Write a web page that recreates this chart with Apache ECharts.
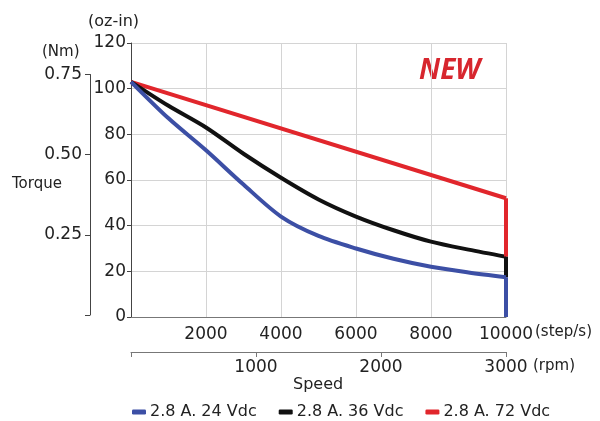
<!DOCTYPE html>
<html>
<head>
<meta charset="utf-8">
<script src="https://cdn.jsdelivr.net/npm/echarts@6/dist/echarts.min.js"></script>
<style>html,body{margin:0;padding:0;background:#fff}#c{width:600px;height:421px}</style>
</head>
<body>
<div id="c"></div>
<script>
// ---- data ----
const seriesNames = ['2.8 A. 24 Vdc', '2.8 A. 36 Vdc', '2.8 A. 72 Vdc'];
const speedSteps = [0, 1000, 2000, 3000, 4000, 5000, 6000, 7000, 8000, 9000, 10000];
const torque24 = [103, 87, 73, 58, 44, 35.5, 30, 25.5, 22, 19.5, 17.4];
const torque36 = [103, 92.5, 83, 71.5, 61, 51.5, 44, 38, 33, 29.5, 26.4];
const speed72 = [0, 10000];
const torque72 = [103, 52];
const cutoffSpeed = 10000;
const cutoffFloor = { '24': 0, '36': 17.4, '72': 26.4 };
const stepTicks = [0, 2000, 4000, 6000, 8000, 10000];
const rpmTicks = [0, 1000, 2000, 3000];
const ozTicks = [0, 20, 40, 60, 80, 100, 120];
const nmTicks = [0, 0.25, 0.5, 0.75];

const FONT = 'DejaVu Sans';
const colors = ['#3c4fa5', '#111111', '#e1262c'];

function pairs(xs, ys) { return xs.map((x, i) => [x, ys[i]]); }
const d24 = pairs(speedSteps, torque24);
const d36 = pairs(speedSteps, torque36);
const d72 = pairs(speed72, torque72);

function dropLine(ys, floor, color) {
  return {
    silent: true, symbol: ['none', 'none'], label: { show: false },
    lineStyle: { color: color, width: 4, type: 'solid' },
    emphasis: { disabled: true },
    data: [[{ coord: [cutoffSpeed, ys[ys.length - 1]] }, { coord: [cutoffSpeed, floor] }]]
  };
}

const chart = echarts.init(document.getElementById('c'), null, { renderer: 'canvas' });
const txt = { fontFamily: FONT, color: '#222' };

chart.setOption({
  animation: false,
  backgroundColor: '#ffffff',
  grid: [
    { left: 131, right: 94, top: 43, bottom: 104 },
    { left: 90, width: 1, top: 74.5, bottom: 106 }
  ],
  xAxis: [
    {
      gridIndex: 0, type: 'value', min: stepTicks[0], max: stepTicks[stepTicks.length - 1],
      interval: stepTicks[1] - stepTicks[0],
      axisLine: { show: true, lineStyle: { color: '#777', width: 1 } },
      axisTick: { show: false },
      axisLabel: { ...txt, fontSize: 17, margin: 9, formatter: v => v === 0 ? '' : String(v) },
      splitLine: { show: true, lineStyle: { color: '#d4d4d4', width: 1 } }
    },
    {
      gridIndex: 0, type: 'value', position: 'bottom', offset: 35,
      min: rpmTicks[0], max: rpmTicks[rpmTicks.length - 1], interval: rpmTicks[1] - rpmTicks[0],
      axisLine: { show: true, onZero: false, lineStyle: { color: '#777', width: 1 } },
      axisTick: { show: true, length: 5, lineStyle: { color: '#777' } },
      axisLabel: { ...txt, fontSize: 17, margin: 7, formatter: v => v === 0 ? '' : String(v) },
      splitLine: { show: false }
    },
    { gridIndex: 1, type: 'value', show: false, min: 0, max: 1 }
  ],
  yAxis: [
    {
      gridIndex: 0, type: 'value', min: ozTicks[0], max: ozTicks[ozTicks.length - 1],
      interval: ozTicks[1] - ozTicks[0],
      axisLine: { show: true, lineStyle: { color: '#444', width: 1 } },
      axisTick: { show: true, length: 4, lineStyle: { color: '#444' } },
      axisLabel: { ...txt, fontSize: 17, margin: 5 },
      splitLine: { show: true, lineStyle: { color: '#d4d4d4', width: 1 } }
    },
    {
      gridIndex: 1, type: 'value', position: 'left', min: nmTicks[0], max: nmTicks[nmTicks.length - 1],
      interval: nmTicks[1] - nmTicks[0],
      axisLine: { show: true, lineStyle: { color: '#444', width: 1 } },
      axisTick: { show: true, length: 5, lineStyle: { color: '#444' } },
      axisLabel: { ...txt, fontSize: 17, margin: 8, formatter: v => v === 0 ? '' : v.toFixed(2) },
      splitLine: { show: false }
    }
  ],
  legend: {
    data: seriesNames, left: 127, top: 399, itemGap: 22, itemWidth: 14, itemHeight: 5,
    icon: 'roundRect', textStyle: { ...txt, fontSize: 16, padding: [0, 0, 0, -1] }
  },
  series: [
    { name: seriesNames[2], type: 'line', data: d72, showSymbol: false, z: 3,
      lineStyle: { color: colors[2], width: 4 }, itemStyle: { color: colors[2] },
      markLine: dropLine(torque72, cutoffFloor['72'], colors[2]) },
    { name: seriesNames[1], type: 'line', data: d36, showSymbol: false, smooth: 0.3, z: 4,
      lineStyle: { color: colors[1], width: 4 }, itemStyle: { color: colors[1] },
      markLine: dropLine(torque36, cutoffFloor['36'], colors[1]) },
    { name: seriesNames[0], type: 'line', data: d24, showSymbol: false, smooth: 0.3, z: 5,
      lineStyle: { color: colors[0], width: 4 }, itemStyle: { color: colors[0] },
      markLine: dropLine(torque24, cutoffFloor['24'], colors[0]) }
  ],
  graphic: [
    { type: 'text', left: 88, top: 14, style: { text: '(oz-in)', font: '16px "DejaVu Sans"', fill: '#222' } },
    { type: 'text', left: 42, top: 45, style: { text: '(Nm)', font: '15px "DejaVu Sans"', fill: '#222' } },
    { type: 'text', left: 12, top: 177, style: { text: 'Torque', font: '15px "DejaVu Sans"', fill: '#222' } },
    { type: 'text', left: 535, top: 325, style: { text: '(step/s)', font: '15px "DejaVu Sans"', fill: '#222' } },
    { type: 'text', left: 533, top: 359, style: { text: '(rpm)', font: '15px "DejaVu Sans"', fill: '#222' } },
    { type: 'text', left: 293, top: 377, style: { text: 'Speed', font: '16px "DejaVu Sans"', fill: '#222' } },
    { type: 'text', left: 419, top: 57, style: { text: 'NEW', font: 'italic bold 28px "Open Sans"', fill: '#d7262e' } }
  ]
});
</script>
</body>
</html>
